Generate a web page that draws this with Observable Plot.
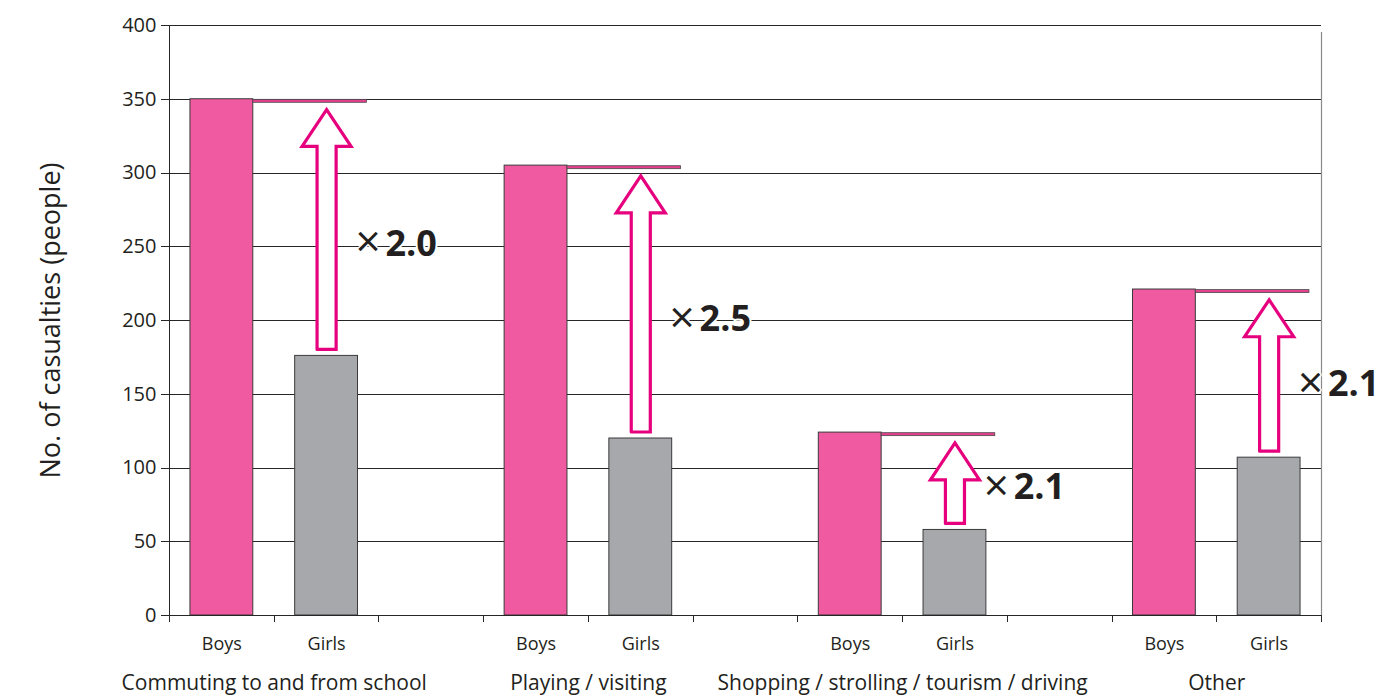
<!DOCTYPE html>
<html>
<head>
<meta charset="utf-8">
<script src="https://cdn.jsdelivr.net/npm/d3@7"></script>
<script src="https://cdn.jsdelivr.net/npm/@observablehq/plot@0.6"></script>
<style>
  html, body { margin: 0; padding: 0; background: #fff; }
  #chart svg { display: block; }
</style>
</head>
<body>
<div id="chart"></div>
<script>
// Casualties by activity, boys vs girls
const categories = [
  "Commuting to and from school",
  "Playing / visiting",
  "Shopping / strolling / tourism / driving",
  "Other"
];
const boys = [350, 305, 124, 221];
const girls = [176, 120, 58, 107];
const genderLabels = ["Boys", "Girls"];
const yTicks = [0, 50, 100, 150, 200, 250, 300, 350, 400];
const yTitle = "No. of casualties (people)";

const PINK = "#ef5aa0";
const GREY = "#a7a8ac";
const MAGENTA = "#e6007e";
const CAP = "#e5408e";
const INK = "#231f20";
const RULE = "#262626";

// Each group takes three slots on a linear x scale: Boys, Girls, spacer
const slotsPerGroup = 3;
const nSlots = categories.length * slotsPerGroup - 1;

const bars = categories.flatMap((c, i) => genderLabels.map((sex, k) => ({
  cat: c, sex, slot: i * slotsPerGroup + k, value: k === 0 ? boys[i] : girls[i]
})));

// Thin pink reference line carrying the boys' level across to the girls' bar
const caps = categories.map((c, i) => ({
  x1: i * slotsPerGroup + 0.8,
  x2: i * slotsPerGroup + 1.885,
  y1: boys[i] - 0.4,
  y2: boys[i] - 2.4
}));

// Hollow up-arrows from the girls' bar to the boys' level
const shaftHalf = 0.091, headHalf = 0.234, headHeight = 25, tipGap = 7, baseGap = 4.4;
const arrowPts = categories.flatMap((c, i) => {
  const cx = i * slotsPerGroup + 1.5;
  const tip = boys[i] - tipGap;
  const base = tip - headHeight;
  const bottom = girls[i] + baseGap;
  return [
    [cx - shaftHalf, bottom], [cx - shaftHalf, base], [cx - headHalf, base],
    [cx, tip], [cx + headHalf, base], [cx + shaftHalf, base],
    [cx + shaftHalf, bottom], [cx - shaftHalf, bottom]
  ].map(([x, y]) => ({g: i, x, y}));
});

// Ratio annotations (boys ÷ girls), set beside each arrow's shaft
const ratios = categories.map((c, i) => ({
  x: i * slotsPerGroup + 1.775,
  y: girls[i] + 0.435 * (boys[i] - girls[i]),
  text: (boys[i] / girls[i]).toFixed(1)
}));

const genderTicks = bars.map(d => d.slot + 0.5);
const genderAt = new Map(bars.map(d => [d.slot + 0.5, d.sex]));
const catTicks = categories.map((c, i) => i * slotsPerGroup + 1);
const catAt = new Map(categories.map((c, i) => [i * slotsPerGroup + 1, c]));

const chart = Plot.plot({
  width: 1399,
  height: 697,
  marginLeft: 169,
  marginRight: 78,
  marginTop: 25,
  marginBottom: 82,
  style: {fontFamily: "'Open Sans', 'Noto Sans', sans-serif", color: INK, background: "#fff"},
  x: {type: "linear", domain: [0, nSlots]},
  y: {domain: [0, 400]},
  marks: [
    Plot.ruleY(yTicks.filter(d => d > 0), {stroke: RULE, strokeWidth: 1, shapeRendering: "crispEdges"}),
    Plot.ruleX([nSlots], {stroke: "#8a8a8a", strokeWidth: 1.2, y1: 0, y2: 400, insetBottom: -7}),
    Plot.rectY(bars, {
      x1: d => d.slot + 0.2,
      x2: d => d.slot + 0.8,
      y: "value",
      fill: d => d.sex === "Boys" ? PINK : GREY,
      stroke: "#3a3a3a",
      strokeWidth: 1
    }),
    Plot.rect(caps, {x1: "x1", x2: "x2", y1: "y1", y2: "y2", fill: CAP, stroke: "#4a4a4a", strokeWidth: 0.8}),
    Plot.line(arrowPts, {
      x: "x", y: "y", z: "g",
      fill: "white", stroke: MAGENTA, strokeWidth: 3.2,
      strokeLinejoin: "miter", strokeMiterlimit: 10, curve: "linear"
    }),
    Plot.text(ratios, {
      x: "x", y: "y", text: () => "×",
      textAnchor: "start", fontSize: 44, fill: INK,
      stroke: "white", strokeWidth: 3, dy: -1
    }),
    Plot.text(ratios, {
      x: "x", y: "y", text: "text",
      textAnchor: "start", dx: 30, fontSize: 36, fontWeight: "bold", fill: INK,
      stroke: "white", strokeWidth: 4
    }),
    Plot.ruleY([0], {stroke: RULE, strokeWidth: 1, shapeRendering: "crispEdges"}),
    Plot.ruleX([0], {stroke: RULE, strokeWidth: 1, shapeRendering: "crispEdges"}),
    Plot.axisY({
      ticks: yTicks, tickSize: 8, tickPadding: 5, fontSize: 20,
      label: null, stroke: RULE, shapeRendering: "crispEdges"
    }),
    Plot.axisX({
      ticks: d3.range(0, nSlots + 1), tickSize: 7, tickFormat: () => "",
      label: null, stroke: RULE, shapeRendering: "crispEdges"
    }),
    Plot.axisX({
      ticks: genderTicks, tickSize: 0, tickPadding: 22, fontSize: 18,
      tickFormat: d => genderAt.get(d), label: null
    }),
    Plot.axisX({
      ticks: catTicks, tickSize: 0, tickPadding: 60, fontSize: 21,
      tickFormat: d => catAt.get(d), label: null
    }),
    Plot.text([yTitle], {
      frameAnchor: "left", textAnchor: "middle", rotate: -90, dx: -118, fontSize: 27, fill: INK
    })
  ]
});

document.getElementById("chart").appendChild(chart);
</script>
</body>
</html>
